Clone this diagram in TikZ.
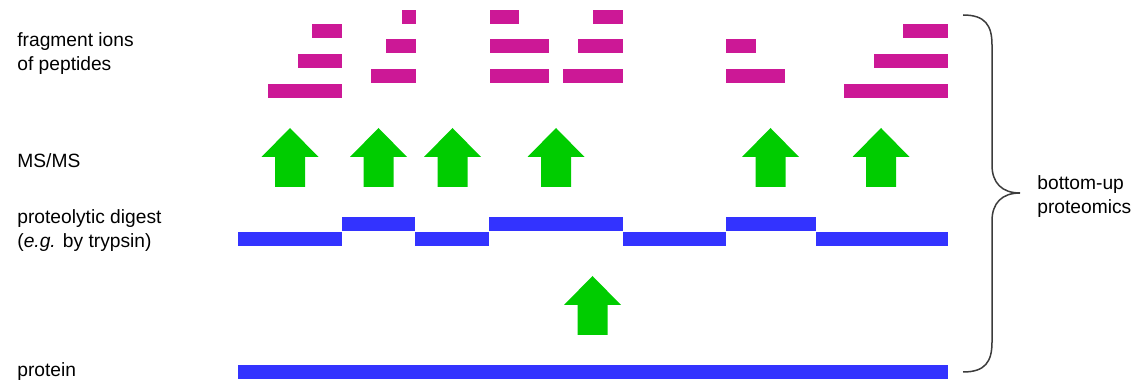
\documentclass[tikz,border=0pt]{standalone}
\usepackage{fontspec}
\setmainfont{Liberation Sans}
\usetikzlibrary{positioning}
\definecolor{ic}{RGB}{204,24,150}
\definecolor{pc}{RGB}{51,51,255}
\definecolor{gc}{RGB}{0,204,0}
\definecolor{bc}{RGB}{60,60,60}
\tikzset{ion/.style={fill=ic},pep/.style={fill=pc},
 lab/.style={align=left,inner sep=0pt,anchor=base west,font=\fontsize{9.6}{12}\selectfont},
 msarr/.pic={\fill[gc] (-15,0)--(-15,-30)--(-28.5,-30)--(0,-59)--(28.5,-30)--(15,-30)--(15,0)--cycle;},
 brc/.style={draw=bc,line width=.75pt}}

\begin{document}
\begin{tikzpicture}[x=.5pt,y=-.5pt]
\useasboundingbox (0,0) rectangle (1134,384);
% row labels (base = last line)
\node[lab] (frag) at (17,71) {fragment ions\\of peptides};
\node[lab] (msms) at (17,168) {MS/MS};
\node[lab] (dig) at (17,248) {proteolytic digest\\(\textit{e.g.} by trypsin)};
\node[lab] (prot) at (17,377) {protein};
% protein and the peptides it is cut into
\fill[pep] (238,365) rectangle (948,379);
\foreach \a/\b in {238/342,415/489,623/726,816/948}{\fill[pep] (\a,232) rectangle (\b,246);}
\foreach \a/\b in {342/415,489/623,726/816}{\fill[pep] (\a,217) rectangle (\b,231);}
% fragment ions, x left / width / top
\foreach \a/\w/\t in {312/30/24,298/44/54,268/74/84,
 402/14/10,386/30/39,371/45/69,
 490/29/10,490/59/39,490/59/69,
 593/30/10,578/45/39,563/60/69,
 726/30/39,726/59/69,
 903/45/24,874/74/54,844/104/84}{\fill[ion] (\a,\t) rectangle ++(\w,14.5);}
% MS/MS and digestion steps
\foreach \c in {290,378.5,452.5,556,770.5,881}{\pic at (\c,187) {msarr};}
\pic at (592.5,335) {msarr};
% brace
\coordinate (tip) at (1020,193);
\draw[brc] (963,15) .. controls (985,15) and (992,25) .. (992,45) -- (992,165)
 .. controls (992,183) and (1002,193) .. (tip) .. controls (1002,193) and (992,203) .. (992,221)
 -- (992,342) .. controls (992,362) and (985,372) .. (963,372);
\node[lab] (bu) at (1037,214) {bottom-up\\proteomics};
\end{tikzpicture}
\end{document}
